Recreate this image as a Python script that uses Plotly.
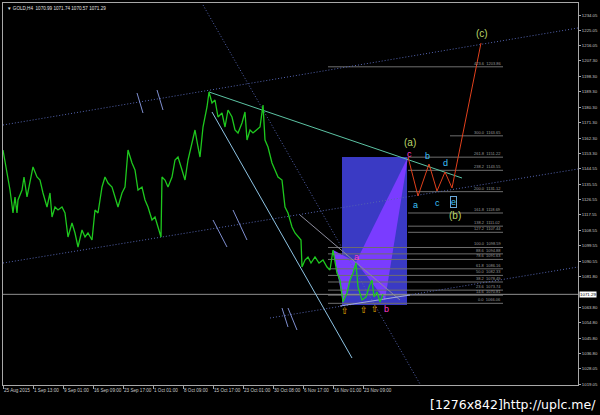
import plotly.graph_objects as go

# ---------------- data ----------------
bar = [0, 4, 7, 10, 12, 14, 15, 19, 21, 24, 27, 30, 34, 37, 40, 44, 47, 49, 52, 55,
       59, 62, 65, 69, 72, 75, 79, 82, 85, 89, 92, 95, 99, 102, 105, 109, 112, 115, 119, 122,
       125, 129, 132, 135, 139, 142, 145, 149, 152, 155, 158, 159, 162, 165, 169, 172, 175, 179, 182, 185,
       189, 192, 195, 197, 200, 204, 206, 209, 212, 215, 219, 222, 225, 229, 232, 235, 239, 242, 244, 247,
       250, 254, 257, 260, 262, 265, 269, 272, 275, 279, 282, 285, 289, 292, 295, 298, 299, 302, 305, 308,
       312, 316, 320, 324, 327, 330, 334, 337, 340, 344, 347, 350, 353, 355, 359, 363, 366, 369, 371, 374,
       377, 380]
close = [1155.39, 1141.99, 1132.08, 1118.68, 1128.01, 1118.68, 1126.26, 1132.08, 1139.66, 1128.01,
         1136.16, 1145.49, 1139.66, 1137.91, 1130.34, 1122.18, 1130.34, 1116.35, 1122.18, 1120.43,
         1122.18, 1118.68, 1104.70, 1112.86, 1107.03, 1098.87, 1108.78, 1104.70, 1107.03, 1102.95,
         1120.43, 1118.68, 1133.83, 1139.66, 1136.16, 1133.83, 1128.01, 1122.18, 1130.34, 1133.83,
         1155.39, 1147.82, 1143.74, 1132.08, 1133.83, 1126.26, 1122.18, 1114.60, 1116.35, 1110.53,
         1104.70, 1139.66, 1137.91, 1133.83, 1139.66, 1149.56, 1151.31, 1143.74, 1137.91, 1149.56,
         1159.47, 1167.04, 1157.14, 1151.31, 1168.79, 1180.45, 1189.19, 1182.78, 1184.52, 1174.62,
         1176.95, 1168.79, 1178.70, 1174.62, 1167.04, 1165.30, 1171.12, 1177.53, 1161.22, 1167.04,
         1165.30, 1167.04, 1168.79, 1181.61, 1161.22, 1157.14, 1147.82, 1143.74, 1139.66, 1137.91,
         1122.18, 1118.68, 1110.53, 1107.03, 1104.70, 1102.95, 1087.22, 1091.30, 1093.05, 1089.55,
         1093.05, 1089.55, 1091.30, 1087.22, 1085.47, 1097.12, 1083.72, 1079.65, 1066.83, 1072.07,
         1079.65, 1083.72, 1089.55, 1075.57, 1067.99, 1069.74, 1075.57, 1079.65, 1069.74, 1072.65,
         1066.83, 1071.29]
last_price = 1071.29
title_text = "\u25bc GOLD,H4  1070.99 1071.74 1070.57 1071.29"

x_tick_bars = [0, 30, 60, 90, 120, 150, 180, 210, 240, 270, 300, 330, 360]
x_tick_labels = ["25 Aug 2015", "1 Sep 13:00", "9 Sep 01:00", "16 Sep 09:00", "23 Sep 17:00",
                 "1 Oct 01:00", "8 Oct 09:00", "15 Oct 17:00", "23 Oct 01:00", "30 Oct 08:00",
                 "6 Nov 17:00", "16 Nov 01:00", "23 Nov 09:00"]
y_tick_labels = ["1234.05", "1225.05", "1216.05", "1207.30", "1198.30", "1189.30", "1180.30",
                 "1171.30", "1162.30", "1153.30", "1144.55", "1135.55", "1126.55", "1117.55",
                 "1108.55", "1099.55", "1090.55", "1081.80", "1063.80", "1054.80", "1045.80",
                 "1036.80", "1028.05", "1019.05"]

# channel (dotted) lines: [bar0, bar1], [price0, price1]
chan_upper_bar, chan_upper_price = [0, 575], [1169.96, 1226.48]
chan_mid_bar, chan_mid_price = [0, 575], [1089.55, 1144.32]
chan_low_bar, chan_low_price = [267, 575], [1057.50, 1087.22]
steep_dot_bar, steep_dot_price = [200, 417], [1239.88, 1019.05]
# hash marks on the channel lines
hash_bar0 = [134, 154, 210, 230, 279, 285]
hash_bar1 = [140, 160, 224, 244, 285, 294]
hash_p0 = [1188.60, 1190.35, 1114.60, 1120.43, 1063.33, 1063.33]
hash_p1 = [1176.95, 1178.70, 1098.87, 1102.95, 1052.26, 1050.51]

# trend lines
teal_bar, teal_price = [206, 459], [1189.19, 1139.08]
lblue_bar, lblue_price = [209, 349], [1177.53, 1034.20]
gray_bar, gray_price = [297, 397], [1117.52, 1067.99]
support_bar, support_price = [337, 407], [1064.49, 1070.90]

# box and harmonic triangles
box_bar, box_price = [339, 404], [1065.08, 1151.31]
tri1_bar, tri1_price = [330, 340, 353], [1097.12, 1066.24, 1090.13]
tri2_bar, tri2_price = [353, 382, 405], [1090.13, 1067.99, 1151.31]

# fibonacci levels
fib_ratio = ["0.0", "14.6", "23.6", "38.2", "50.0", "61.8", "78.6", "88.6", "100.0", "127.2",
             "138.2", "161.8", "200.0", "238.2", "261.8", "300.0", "423.6"]
fib_price = [1066.06, 1070.81, 1073.74, 1078.49, 1082.33, 1086.16, 1091.63, 1094.88, 1098.59,
             1107.44, 1111.02, 1118.69, 1131.12, 1143.55, 1151.22, 1163.65, 1203.86]
fib_start_bar = [325, 325, 325, 325, 325, 325, 325, 325, 325, 405, 405, 405, 405, 405, 405, 447, 325]
fib_end_bar = 500

# projected wave path
wave_bar = [405, 415, 426, 434, 442, 449, 478]
wave_price = [1151.31, 1128.59, 1147.24, 1131.50, 1142.57, 1133.25, 1217.74]

# wave labels
lbl_text = ["(a)", "c", "b", "d", "a", "c", "e", "(b)", "(c)", "a", "b"]
lbl_bar = [407, 406, 424, 442, 412, 434, 450, 452, 479, 353, 383]
lbl_price = [1160.05, 1153.06, 1151.89, 1147.82, 1123.34, 1124.51, 1125.09, 1116.94, 1223.56, 1093.05, 1062.75]
lbl_kind = ["big", "mag", "cyan", "cyan", "cyan", "cyan", "cyanbox", "big", "big", "mag", "mag"]
arrow_bar = [342, 361, 372]
arrow_price = [1061.59, 1062.17, 1062.75]

# ---------------- figure ----------------
BG = "#000000"
AXC = "#a8a8a8"
TXT = "#c8c8c8"
DOT = "#5464b0"
DOTDASH = "1px,2px"

fig = go.Figure()


def seg(xs, ys, color, width=1, dash="solid"):
    fig.add_trace(go.Scatter(x=xs, y=ys, mode="lines", line=dict(color=color, width=width, dash=dash),
                             hoverinfo="skip", showlegend=False))


# box
fig.add_trace(go.Scatter(x=[box_bar[0], box_bar[1], box_bar[1], box_bar[0], box_bar[0]],
                         y=[box_price[0], box_price[0], box_price[1], box_price[1], box_price[0]],
                         mode="lines", fill="toself", fillcolor="#3a3ac4", line=dict(width=0),
                         hoverinfo="skip", showlegend=False))
for tb, tp in [(tri1_bar, tri1_price), (tri2_bar, tri2_price)]:
    fig.add_trace(go.Scatter(x=tb + [tb[0]], y=tp + [tp[0]], mode="lines", fill="toself",
                             fillcolor="#7a3cff", line=dict(width=0, color="#7a3cff"),
                             hoverinfo="skip", showlegend=False))

# fib levels
for r, p, sb in zip(fib_ratio, fib_price, fib_start_bar):
    seg([sb, fib_end_bar], [p, p], "#6e6e6e", 1)

# current price line
seg([0, 575], [last_price, last_price], "#909090", 1)

# channels
seg(chan_upper_bar, chan_upper_price, DOT, 1, DOTDASH)
seg(chan_mid_bar, chan_mid_price, DOT, 1, DOTDASH)
seg(chan_low_bar, chan_low_price, DOT, 1, DOTDASH)
seg(steep_dot_bar, steep_dot_price, DOT, 1, DOTDASH)
for b0, b1, p0, p1 in zip(hash_bar0, hash_bar1, hash_p0, hash_p1):
    seg([b0, b1], [p0, p1], "#7f8fd0", 1)

# trend lines
seg(teal_bar, teal_price, "#5cc4a4", 1)
seg(lblue_bar, lblue_price, "#8ec4e4", 1)
seg(gray_bar, gray_price, "#8c8c9c", 1)
seg(support_bar, support_price, "#a0a8e0", 1)

# price
seg(bar, close, "#1ec81e", 1.3)

# wave projection
seg(wave_bar, wave_price, "#e0401c", 1)

annotations = []
for t, b, p, k in zip(lbl_text, lbl_bar, lbl_price, lbl_kind):
    if k == "big":
        col, sz = "#bcd86a", 10
    elif k == "mag":
        col, sz = "#ff3cc8", 9
    else:
        col, sz = "#3cc0f8", 9
    a = dict(x=b, y=p, xref="x", yref="y", text=t, showarrow=False,
             font=dict(family="Liberation Sans", size=sz, color=col))
    if k == "cyanbox":
        a.update(bordercolor="#6aa8d8", borderwidth=1, borderpad=0)
    annotations.append(a)
for b, p in zip(arrow_bar, arrow_price):
    annotations.append(dict(x=b, y=p, xref="x", yref="y", text="\u21e7", showarrow=False,
                            font=dict(family="DejaVu Sans", size=9, color="#f0b400")))
for r, p in zip(fib_ratio, fib_price):
    annotations.append(dict(x=fib_end_bar, y=p, xref="x", yref="y", text=f"{r}  {p:.2f}",
                            showarrow=False, xanchor="right", yanchor="bottom", yshift=-1,
                            font=dict(family="Liberation Sans", size=4, color="#9a9a9a")))
annotations.append(dict(x=0.004, y=0.998, xref="paper", yref="paper", text=title_text,
                        showarrow=False, xanchor="left", yanchor="top",
                        font=dict(family="Liberation Sans", size=4.6, color="#e0e0e0")))
annotations.append(dict(x=1.0, y=last_price, xref="paper", yref="y", text=f"{last_price:.2f}",
                        showarrow=False, xanchor="left", xshift=1, bgcolor="#ffffff", borderpad=0,
                        font=dict(family="Liberation Sans", size=4.4, color="#000000")))
annotations.append(dict(x=1.0348, y=-0.05, xref="paper", yref="paper",
                        text="[1276x842]http://uplc.me/", showarrow=False, xanchor="right",
                        yanchor="middle",
                        font=dict(family="DejaVu Sans", size=12.5, color="#ffffff")))

fig.update_layout(
    width=600, height=415,
    margin=dict(l=3, r=22, t=3, b=30, autoexpand=False),
    paper_bgcolor=BG, plot_bgcolor=BG,
    showlegend=False,
    annotations=annotations,
    xaxis=dict(range=[0, 575], showgrid=False, zeroline=False, showline=True, linecolor=AXC,
               linewidth=1, mirror=True, tickmode="array", tickvals=x_tick_bars,
               ticktext=x_tick_labels, ticks="outside", ticklen=3, tickcolor=AXC,
               ticklabelposition="outside right", tickangle=0, automargin=False,
               tickfont=dict(family="Liberation Sans", size=4.6, color=TXT)),
    yaxis=dict(range=[1018.47, 1241.04], side="right", showgrid=False, zeroline=False,
               showline=True, linecolor=AXC, linewidth=1, mirror=True, tickmode="array",
               tickvals=[float(v) for v in y_tick_labels], ticktext=y_tick_labels,
               ticks="outside", ticklen=2, tickcolor=AXC, automargin=False,
               tickfont=dict(family="Liberation Sans", size=4.3, color=TXT)),
)

fig.write_html("out.html", config={"displayModeBar": False},
               post_script="document.body.style.margin='0px';document.body.style.background='#000';")
